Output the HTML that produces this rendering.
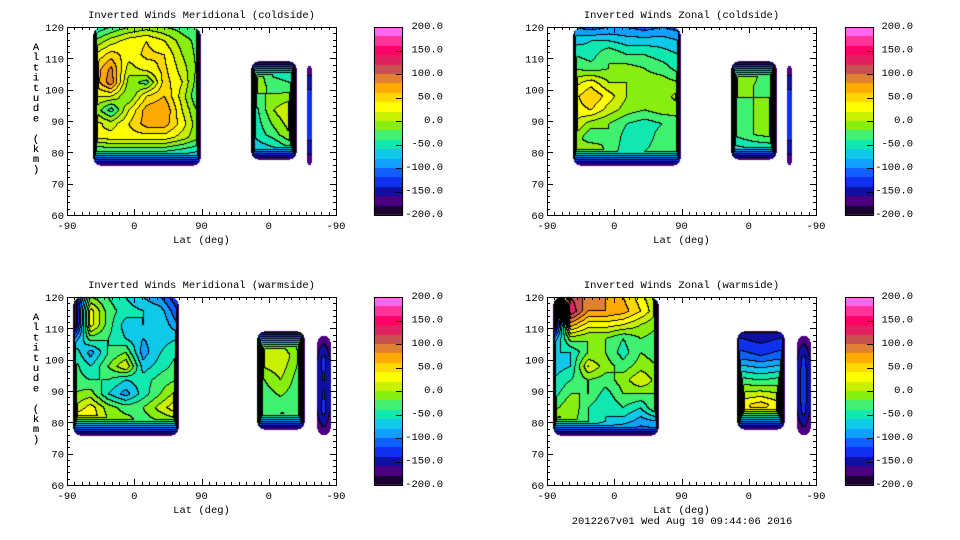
<!DOCTYPE html>
<html><head><meta charset="utf-8">
<style>
html,body{margin:0;padding:0;background:#fff;}
#wrap{position:relative;width:960px;height:540px;overflow:hidden;background:#fff;}
canvas,svg{position:absolute;left:0;top:0;}
text{font-family:"Liberation Mono",monospace;font-size:10.5px;fill:#000;}
</style></head>
<body>
<div id="wrap">
<canvas id="cv" width="960" height="540"></canvas>
<svg id="sv" width="960" height="540"></svg>
</div>
<script>
// ---------- data ----------
const levels = [-200,-180,-160,-140,-120,-100,-80,-60,-40,-20,0,20,40,60,80,100,120,140,160,180,200];
const bandColors = ["#1a0030","#4b0082","#1010a0","#1030f0","#1060ff","#10a0ff","#10c8e8","#10e8b0","#40f070","#88ee10","#c8f000","#ffff00","#ffd800","#ffaa00","#e08030","#c85050","#e02060","#ff0066","#ff3399","#ff66ee"];
const cbarLabels = ["200.0","150.0","100.0","50.0","0.0","-50.0","-100.0","-150.0","-200.0"];
const xTickLabels = ["-90","0","90","0","-90"];
const yTickLabels = ["60","70","80","90","100","110","120"];
const panelTitles = ["Inverted Winds Meridional (coldside)","Inverted Winds Zonal (coldside)","Inverted Winds Meridional (warmside)","Inverted Winds Zonal (warmside)"];
const altRowsA = [120,116,112,108,104,100,96,92,88,84,80,76];
const altRowsB = [109,104,99,94,89,84,78];
const altRowsC = [108,104,92,80,76];
const coldRangeA=[35,178], coldRangeB=[246,306], coldRangeC=[321,327];
const warmRangeA=[8,148], warmRangeB=[254,317], warmRangeC=[334,352];

const merColdA = [
[-200,-60,-40,-20,-10,-20,-30,-40,-200],
[-200,-20,10,30,40,20,-10,-30,-200],
[-200,20,50,30,45,40,0,-30,-200],
[-200,40,85,10,30,45,10,-30,-200],
[-200,40,95,-10,-30,50,20,-40,-200],
[-200,20,20,-20,40,60,10,-50,-200],
[-200,0,-50,20,70,80,20,-30,-200],
[-200,30,10,40,70,70,30,-20,-200],
[-200,20,30,30,30,30,10,-20,-200],
[-200,-40,-40,-40,-40,-40,-50,-60,-200],
[-200,-100,-95,-90,-100,-95,-100,-110,-200],
[-200,-200,-200,-200,-200,-200,-200,-200,-200]];
const merColdB = [
[-200,-200,-200,-200,-200],
[-200,20,-60,-60,-200],
[-200,0,-30,-40,-200],
[-200,-60,0,30,-200],
[-200,-60,-30,10,-200],
[-200,-90,-90,-70,-200],
[-200,-200,-200,-200,-200]];
const merColdC = [[-175,-175],[-140,-140],[-140,-140],[-140,-140],[-175,-175]];

const zonColdA = [
[-200,-100,-110,-100,-100,-110,-100,-110,-200],
[-200,-70,-60,-60,-70,-70,-70,-80,-200],
[-200,-40,-50,-20,-40,-40,-50,-60,-200],
[-200,-20,-30,-20,-10,-20,-30,-50,-200],
[-200,10,30,0,0,-10,-10,-20,-200],
[-200,30,60,30,0,-10,-10,10,-200],
[-200,30,40,10,-10,-20,-10,-10,-200],
[-200,20,-10,-20,-40,-50,-40,-30,-200],
[-200,0,-40,-20,-50,-50,-30,-20,-200],
[-200,-20,10,-30,-50,-40,-30,-30,-200],
[-200,-100,-100,-95,-100,-100,-100,-110,-200],
[-200,-200,-200,-200,-200,-200,-200,-200,-200]];
const zonColdB = [
[-200,-200,-200,-200,-200],
[-200,30,-10,-30,-200],
[-200,-10,-20,-40,-200],
[-200,-30,-20,0,-200],
[-200,-40,-20,-10,-200],
[-200,-90,-90,-90,-200],
[-200,-200,-200,-200,-200]];
const zonColdC = [[-175,-175],[-140,-140],[-140,-140],[-140,-140],[-175,-175]];

const merWarmA = [
[-200,-200,-20,-40,-60,-80,-100,-140,-200],
[-200,-200,30,-30,-50,-60,-70,-120,-200],
[-200,-200,30,-30,-70,-60,-60,-100,-200],
[-200,-100,-30,-40,-60,-80,-70,-60,-200],
[-200,-40,-90,-40,-20,-90,-60,-40,-200],
[-200,-30,-60,-20,20,-70,-50,-30,-200],
[-200,-30,-40,-40,-60,-50,-30,-20,-200],
[-200,-20,-10,-60,-90,-50,-20,10,-200],
[-200,0,30,-10,-30,-20,10,40,-200],
[-200,50,40,0,-10,-30,-20,-10,-200],
[-200,-100,-95,-100,-100,-100,-110,-110,-200],
[-200,-200,-200,-200,-200,-200,-200,-200,-200]];
const merWarmB = [
[-200,-200,-200,-200,-200],
[-200,20,-20,-40,-200],
[-200,20,20,-30,-200],
[-200,-30,0,-40,-200],
[-200,-40,-30,-40,-200],
[-200,-40,0,10,-200],
[-200,-200,-200,-200,-200]];
const merWarmC = [[-175,-175,-175],[-160,-130,-160],[-160,-140,-160],[-160,-130,-160],[-175,-175,-175]];

const zonWarmA = [
[-200,-200,120,90,80,60,30,-10,-200],
[-200,-200,140,80,80,70,40,0,-200],
[-200,-200,70,30,30,20,0,-20,-200],
[-200,-100,-10,-20,-20,-40,-20,-30,-200],
[-200,-60,-60,-20,-20,-50,-20,-30,-200],
[-200,-70,-60,20,-10,-30,-10,-20,-200],
[-200,-60,-40,-20,-30,-10,20,-10,-200],
[-200,-50,-20,-20,-50,-20,-20,-20,-200],
[-200,-30,0,-40,-60,-40,-60,-10,-200],
[-200,20,-10,-40,-60,-70,-90,-80,-200],
[-200,-120,-110,-110,-120,-120,-120,-120,-200],
[-200,-200,-200,-200,-200,-200,-200,-200,-200]];
const zonWarmB = [
[-200,-200,-200,-200,-200],
[-200,-150,-160,-150,-200],
[-200,-110,-120,-110,-200],
[-200,-30,-40,-30,-200],
[-200,30,50,20,-200],
[-200,20,30,10,-200],
[-200,-200,-200,-200,-200]];
const zonWarmC = [[-175,-175,-175],[-160,-130,-160],[-160,-120,-160],[-160,-130,-160],[-175,-175,-175]];

const panels = [
 {plotX:67, plotY:27, cbX:374, labR:443, regions:[[coldRangeA,altRowsA,merColdA],[coldRangeB,altRowsB,merColdB],[coldRangeC,altRowsC,merColdC]]},
 {plotX:547,plotY:27, cbX:845, labR:913, regions:[[coldRangeA,altRowsA,zonColdA],[coldRangeB,altRowsB,zonColdB],[coldRangeC,altRowsC,zonColdC]]},
 {plotX:67, plotY:297,cbX:374, labR:443, regions:[[warmRangeA,altRowsA,merWarmA],[warmRangeB,altRowsB,merWarmB],[warmRangeC,altRowsC,merWarmC]]},
 {plotX:547,plotY:297,cbX:845, labR:913, regions:[[warmRangeA,altRowsA,zonWarmA],[warmRangeB,altRowsB,zonWarmB],[warmRangeC,altRowsC,zonWarmC]]}
];
const PW=269, PH=188;
// ---------- helpers ----------
function xScale(p,u){return p.plotX + u/360*PW;}
function yScale(p,alt){return p.plotY + (120-alt)/60*PH;}
function bandOf(v){let b=Math.floor((v+200)/20);return Math.max(0,Math.min(19,b));}
function hex(c){return [parseInt(c.substr(1,2),16),parseInt(c.substr(3,2),16),parseInt(c.substr(5,2),16)];}
const rgb = bandColors.map(hex);
const ctx = document.getElementById('cv').getContext('2d');
const img = ctx.createImageData(960,540);
for(let i=0;i<img.data.length;i++) img.data[i]=255;

function isEdge(arr){return arr.every(v=>v<=-195);}
function drawRegion(p, range, alts, grid){
  const x0=Math.round(xScale(p,range[0])), x1=Math.round(xScale(p,range[1]));
  const y0=Math.round(yScale(p,alts[0])), y1=Math.round(yScale(p,alts[alts.length-1]));
  const w=x1-x0+1, h=y1-y0+1, nc=grid[0].length, nr=grid.length;
  const leftE=isEdge(grid.map(r=>r[0])), rightE=isEdge(grid.map(r=>r[nc-1]));
  const topE=isEdge(grid[0]), botE=isEdge(grid[nr-1]);
  const c0=leftE?1:0, c1=rightE?nc-2:nc-1, r0=topE?1:0, r1=botE?nr-2:nr-1;
  const rateX = w>80 ? 40 : (w<10 ? 30 : 25);
  const rateY = 10;
  const bands=new Int8Array(w*h).fill(-1);
  const rad=Math.min(7,w/2,h/2);
  for(let j=0;j<h;j++){
    for(let i=0;i<w;i++){
      let cx=Math.min(i,w-1-i), cy=Math.min(j,h-1-j);
      if(cx<rad&&cy<rad){const dx=rad-cx, dy=rad-cy; if(dx*dx+dy*dy>rad*rad) continue;}
      let gy=r0+(j/(h-1))*(r1-r0);
      let r=Math.min(Math.max(r0,Math.floor(gy)),Math.max(r0,r1-1)); let fy=r1>r0?gy-r:0; const r2=r1>r0?r+1:r;
      let gx=c0+(i/(w-1))*(c1-c0);
      let c=Math.min(Math.max(c0,Math.floor(gx)),Math.max(c0,c1-1)); let fx=c1>c0?gx-c:0; const c2=c1>c0?c+1:c;
      let v=(grid[r][c]*(1-fx)+grid[r][c2]*fx)*(1-fy)+(grid[r2][c]*(1-fx)+grid[r2][c2]*fx)*fy;
      let cap=1e9;
      if(leftE) cap=Math.min(cap,-178+rateX*i); if(rightE) cap=Math.min(cap,-178+rateX*(w-1-i));
      if(topE) cap=Math.min(cap,-178+rateY*j); if(botE) cap=Math.min(cap,-178+rateY*(h-1-j));
      v=Math.min(v,cap);
      bands[j*w+i]=bandOf(v);
    }
  }
  for(let j=0;j<h;j++){
    for(let i=0;i<w;i++){
      const b=bands[j*w+i]; if(b<0) continue;
      let col=rgb[b];
      const rb=i<w-1?bands[j*w+i+1]:b, db=j<h-1?bands[(j+1)*w+i]:b;
      if((rb>=0&&rb!==b)||(db>=0&&db!==b)) col=[0,0,0];
      const k=((y0+j)*960+(x0+i))*4;
      img.data[k]=col[0];img.data[k+1]=col[1];img.data[k+2]=col[2];img.data[k+3]=255;
    }
  }
}
panels.forEach(p=>p.regions.forEach(r=>drawRegion(p,r[0],r[1],r[2])));
panels.forEach(p=>{
  const top=p.plotY, bh=PH;
  for(let b=0;b<20;b++){
    const ya=Math.round(top+bh-(levels[b+1]+200)/400*bh), yb=Math.round(top+bh-(levels[b]+200)/400*bh);
    for(let y=ya;y<yb;y++)for(let x=p.cbX;x<p.cbX+29;x++){
      const k=(y*960+x)*4;img.data[k]=rgb[b][0];img.data[k+1]=rgb[b][1];img.data[k+2]=rgb[b][2];
    }
  }
});
ctx.putImageData(img,0,0);

// ---------- SVG axes ----------
const NS="http://www.w3.org/2000/svg";
const sv=document.getElementById('sv');
function el(tag,attrs,parent){const e=document.createElementNS(NS,tag);for(const k in attrs)e.setAttribute(k,attrs[k]);(parent||sv).appendChild(e);return e;}
panels.forEach((p,pi)=>{
  const g=el('g',{});
  
  
  const t=el('text',{x:p.plotX+PW/2,y:p.plotY-9,'text-anchor':'middle'},g);
  t.textContent=panelTitles[pi];
  
  
  const fr=el('rect',{x:p.plotX+0.5,y:p.plotY+0.5,width:PW,height:PH,fill:'none',stroke:'#000','stroke-width':1},g);
  
  
  let d='';
  for(let k=0;k<=36;k++){const x=Math.round(xScale(p,k*10))+0.5;const L=(k%9===0)?6:3;
    d+=`M${x},${p.plotY+PH}v${-L}M${x},${p.plotY}v${L}`;}
  for(let a=60;a<=120;a+=2){const y=Math.round(yScale(p,a))+0.5;const L=(a%10===0)?6:3;
    d+=`M${p.plotX},${y}h${L}M${p.plotX+PW},${y}h${-L}`;}
  const tk=el('path',{d:d,stroke:'#000','stroke-width':1,fill:'none'},g);
  
  
  xTickLabels.forEach((s,k)=>{
    const tx=el('text',{x:xScale(p,k*90),y:p.plotY+PH+14,'text-anchor':'middle'},g);
    tx.textContent=s;
    
    
  });
  yTickLabels.forEach(s=>{
    const ty=el('text',{x:p.plotX-3,y:yScale(p,+s)+4,'text-anchor':'end'},g);
    ty.textContent=s;
    
    
  });
  const xt=el('text',{x:p.plotX+PW/2,y:p.plotY+PH+28,'text-anchor':'middle'},g);
  xt.textContent='Lat (deg)';
  
  
  const ytg=el('g',{},g);
  
  
  'Altitude (km)'.split('').forEach((ch,i)=>{
    const c=el('text',{x:36,y:p.plotY+23+i*10.2,'text-anchor':'middle'},ytg);c.textContent=ch;
  });
  const cb=el('rect',{x:p.cbX+0.5,y:p.plotY+0.5,width:28,height:PH,fill:'none',stroke:'#000'},g);
  
  
  let cd='';
  cbarLabels.forEach((s,k)=>{
    const y=p.plotY+k*PH/8;
    const cl=el('text',{x:p.labR,y:y+2,'text-anchor':'end'},g);
    cl.textContent=s;
    
    
    if(k>0&&k<8) cd+=`M${p.cbX+28},${Math.round(y)+0.5}h-6`;
  });
  const ct=el('path',{d:cd,stroke:'#000'},g);
  
  
});
const ft=el('text',{x:682,y:524,'text-anchor':'middle'});
ft.textContent='2012267v01 Wed Aug 10 09:44:06 2016';


</script>
</body></html>
